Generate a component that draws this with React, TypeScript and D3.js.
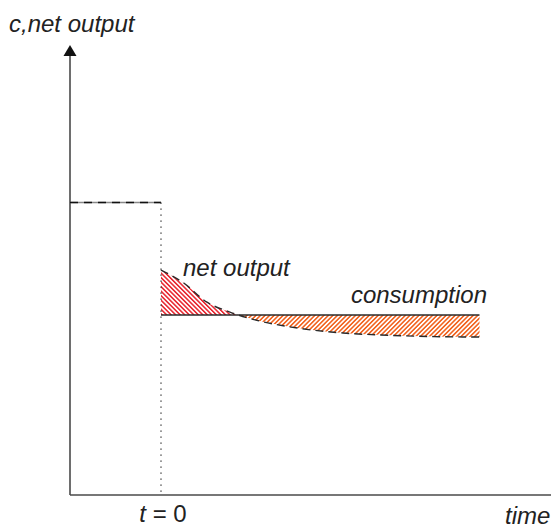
import React from "react";
import * as d3 from "d3";

// Data (arbitrary units)
const preShockTime = [-2, 0];
const preShockLevel = 6.5;
const consumptionTime = [0, 7];
const consumptionLevel = 4.0;
const netOutputTime = [0, 0.5, 1, 1.5, 2, 3, 4, 5, 6, 7];
const netOutputValue = [5.0, 4.71, 4.29, 4.07, 3.91, 3.71, 3.6, 3.55, 3.52, 3.51];
const axisMaxTime = 9.92;
const axisMaxValue = 10;

const W = 551;
const H = 529;

export default function App() {
  const x = d3.scaleLinear().domain([-2, 7]).range([70, 479.5]);
  const y = d3.scaleLinear().domain([0, 10]).range([495, 45]);

  const net = netOutputTime.map((t, i) => ({ t, v: netOutputValue[i] }));
  const line = d3
    .line<{ t: number; v: number }>()
    .x((d) => x(d.t))
    .y((d) => y(d.v))
    .curve(d3.curveMonotoneX);
  const area = d3
    .area<{ t: number; v: number }>()
    .x((d) => x(d.t))
    .y0(() => y(consumptionLevel))
    .y1((d) => y(d.v))
    .curve(d3.curveMonotoneX);

  const x0 = x(-2);
  const yBase = y(0);
  const axisTipX = x(axisMaxTime);
  const axisTipY = y(axisMaxValue);
  const cy = y(consumptionLevel);
  const font = "'Liberation Sans', Arial, Helvetica, sans-serif";
  const lineCol = "#2b2b2b";
  const axisCol = "#4a4a4a";
  const fs = 24;

  return (
    <svg
      width={W}
      height={H}
      style={{ position: "absolute", left: 0, top: 0, background: "#fff" }}
    >
      <defs>
        <pattern id="redHatch" patternUnits="userSpaceOnUse" width="3.2" height="3.2" patternTransform="rotate(-45)">
          <rect width="1.5" height="3.2" fill="#e8202a" />
        </pattern>
        <pattern id="orangeHatch" patternUnits="userSpaceOnUse" width="3.2" height="3.2" patternTransform="rotate(45)">
          <rect width="1.6" height="3.2" fill="#f26522" />
        </pattern>
        <clipPath id="above">
          <rect x={0} y={0} width={W} height={cy} />
        </clipPath>
        <clipPath id="below">
          <rect x={0} y={cy} width={W} height={H - cy} />
        </clipPath>
      </defs>

      {/* hatched areas */}
      <path d={area(net) || ""} fill="url(#redHatch)" clipPath="url(#above)" />
      <path d={area(net) || ""} fill="url(#orangeHatch)" clipPath="url(#below)" />

      {/* axes */}
      <line x1={x0} y1={yBase} x2={x0} y2={axisTipY + 10} stroke={axisCol} strokeWidth={1.6} />
      <path d={`M${x0},${axisTipY} L${x0 - 6.5},${axisTipY + 11} L${x0 + 6.5},${axisTipY + 11} Z`} fill="#111" />
      <line x1={x0} y1={yBase} x2={axisTipX - 10} y2={yBase} stroke={axisCol} strokeWidth={1.6} />
      <path d={`M${axisTipX},${yBase} L${axisTipX - 12},${yBase - 6.5} L${axisTipX - 12},${yBase + 6.5} Z`} fill="#111" />

      {/* pre-shock level */}
      <line x1={x(preShockTime[0])} x2={x(preShockTime[1])} y1={y(preShockLevel)} y2={y(preShockLevel)} stroke="#888" strokeWidth={1.6} />
      <line x1={x(preShockTime[0])} x2={x(preShockTime[1])} y1={y(preShockLevel)} y2={y(preShockLevel)} stroke="#111" strokeWidth={1.6} strokeDasharray="8,6" />

      {/* t = 0 dotted */}
      <line x1={x(0)} x2={x(0)} y1={y(preShockLevel)} y2={yBase} stroke="#333" strokeWidth={1.3} strokeDasharray="1.3,4.7" />

      {/* consumption */}
      <line x1={x(consumptionTime[0])} x2={x(consumptionTime[1])} y1={cy} y2={cy} stroke={lineCol} strokeWidth={1.4} />

      {/* net output */}
      <path d={line(net) || ""} fill="none" stroke={lineCol} strokeWidth={1.4} strokeDasharray="8,5" />

      {/* labels */}
      <text x={9} y={32} fontFamily={font} fontStyle="italic" fontSize={fs} fill="#222">c,net output</text>
      <text x={183} y={276} fontFamily={font} fontStyle="italic" fontSize={fs} fill="#222">net output</text>
      <text x={487} y={303} textAnchor="end" fontFamily={font} fontStyle="italic" fontSize={fs} fill="#222">consumption</text>
      <text x={163} y={522} textAnchor="middle" fontFamily={font} fontSize={fs} fill="#222">
        <tspan fontStyle="italic">t</tspan> = 0
      </text>
      <text x={505} y={524} fontFamily={font} fontStyle="italic" fontSize={fs} fill="#222">time</text>
    </svg>
  );
}
